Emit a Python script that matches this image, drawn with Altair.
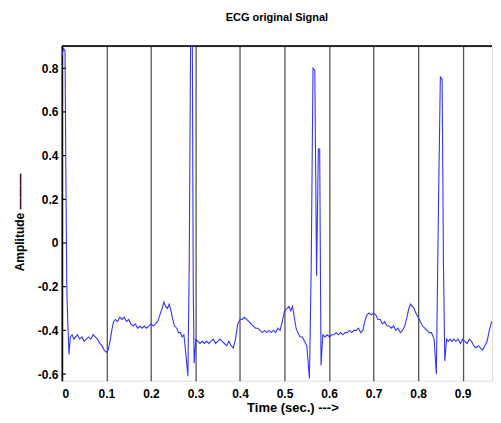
import altair as alt
import pandas as pd

time_s = [
    0.000, 0.004, 0.007, 0.009, 0.011, 0.013, 0.016, 0.019, 0.023, 0.027,
    0.031, 0.035, 0.040, 0.045, 0.050, 0.055, 0.060, 0.065, 0.070, 0.075,
    0.080, 0.085, 0.090, 0.095, 0.100, 0.104, 0.108, 0.112, 0.116, 0.120,
    0.125, 0.130, 0.135, 0.140, 0.145, 0.150, 0.155, 0.160, 0.165, 0.170,
    0.175, 0.180, 0.185, 0.190, 0.195, 0.200, 0.205, 0.210, 0.215, 0.220,
    0.225, 0.229, 0.233, 0.237, 0.241, 0.245, 0.249, 0.253, 0.258, 0.262,
    0.266, 0.270, 0.274, 0.278, 0.283, 0.286, 0.289, 0.293, 0.295, 0.297,
    0.301, 0.305, 0.310, 0.315, 0.320, 0.325, 0.330, 0.335, 0.340, 0.345,
    0.350, 0.355, 0.360, 0.365, 0.370, 0.375, 0.380, 0.385, 0.390, 0.395,
    0.400, 0.405, 0.410, 0.415, 0.420, 0.425, 0.430, 0.435, 0.440, 0.445,
    0.450, 0.455, 0.460, 0.465, 0.470, 0.475, 0.480, 0.485, 0.490, 0.495,
    0.500, 0.505, 0.510, 0.514, 0.518, 0.522, 0.526, 0.530, 0.535, 0.540,
    0.545, 0.550, 0.556, 0.560, 0.564, 0.568, 0.572, 0.576, 0.579, 0.582,
    0.586, 0.591, 0.596, 0.601, 0.606, 0.611, 0.616, 0.621, 0.626, 0.631,
    0.636, 0.641, 0.646, 0.651, 0.656, 0.661, 0.666, 0.671, 0.676, 0.680,
    0.685, 0.690, 0.695, 0.700, 0.705, 0.710, 0.715, 0.720, 0.725, 0.730,
    0.735, 0.740, 0.745, 0.750, 0.755, 0.760, 0.765, 0.770, 0.775, 0.779,
    0.783, 0.787, 0.791, 0.795, 0.800, 0.805, 0.810, 0.815, 0.820, 0.825,
    0.830, 0.836, 0.841, 0.846, 0.850, 0.854, 0.857, 0.860, 0.864, 0.868,
    0.872, 0.876, 0.880, 0.885, 0.890, 0.895, 0.900, 0.905, 0.910, 0.915,
    0.920, 0.925, 0.930, 0.935, 0.940, 0.945, 0.950, 0.955, 0.960, 0.965,
    0.970, 0.975, 0.980, 0.985, 0.990,
]
amplitude = [
    0.86, 0.89, 0.88, 0.30, -0.20, -0.35, -0.51, -0.43, -0.42, -0.44,
    -0.43, -0.42, -0.44, -0.43, -0.45, -0.44, -0.43, -0.44, -0.42, -0.43,
    -0.44, -0.46, -0.47, -0.49, -0.50, -0.49, -0.45, -0.40, -0.36, -0.35,
    -0.36, -0.34, -0.35, -0.34, -0.36, -0.35, -0.37, -0.38, -0.37, -0.39,
    -0.38, -0.39, -0.38, -0.39, -0.38, -0.37, -0.38, -0.37, -0.36, -0.33,
    -0.30, -0.27, -0.29, -0.30, -0.28, -0.31, -0.35, -0.38, -0.39, -0.41,
    -0.41, -0.43, -0.42, -0.50, -0.61, -0.10, 0.90, 0.90, -0.20, -0.55,
    -0.44, -0.45, -0.46, -0.45, -0.46, -0.45, -0.46, -0.45, -0.44, -0.46,
    -0.45, -0.44, -0.45, -0.46, -0.47, -0.45, -0.47, -0.48, -0.44, -0.37,
    -0.35, -0.35, -0.34, -0.35, -0.36, -0.37, -0.38, -0.39, -0.39, -0.40,
    -0.41, -0.40, -0.41, -0.40, -0.41, -0.40, -0.41, -0.39, -0.40, -0.36,
    -0.31, -0.30, -0.29, -0.31, -0.29, -0.34, -0.39, -0.41, -0.43, -0.43,
    -0.45, -0.47, -0.62, -0.10, 0.80, 0.79, -0.15, 0.43, 0.43, -0.56,
    -0.42, -0.43, -0.42, -0.43, -0.42, -0.42, -0.41, -0.42, -0.41, -0.42,
    -0.41, -0.41, -0.40, -0.41, -0.40, -0.40, -0.39, -0.41, -0.40, -0.36,
    -0.33, -0.32, -0.33, -0.32, -0.33, -0.35, -0.35, -0.37, -0.36, -0.38,
    -0.38, -0.39, -0.38, -0.40, -0.39, -0.41, -0.40, -0.38, -0.34, -0.30,
    -0.28, -0.29, -0.30, -0.32, -0.34, -0.36, -0.38, -0.39, -0.40, -0.41,
    -0.41, -0.44, -0.60, 0.20, 0.76, 0.75, -0.10, -0.54, -0.44, -0.45,
    -0.44, -0.45, -0.44, -0.45, -0.44, -0.46, -0.44, -0.45, -0.46, -0.44,
    -0.45, -0.47, -0.48, -0.47, -0.48, -0.49, -0.47, -0.45, -0.40, -0.36,
    -0.35, -0.34, -0.35, -0.34, -0.33,
]

x_ticks = [0, 0.1, 0.2, 0.3, 0.4, 0.5, 0.6, 0.7, 0.8, 0.9]
y_ticks = [-0.6, -0.4, -0.2, 0, 0.2, 0.4, 0.6, 0.8]

df = pd.DataFrame({"t": time_s, "a": amplitude})
ticks_df = pd.DataFrame({"v": y_ticks})

W, H = 431, 335
X_MAX = 0.966
FONT = "Liberation Sans"
LABEL_EXPR = ("datum.value == 0 ? '0' : (datum.value < 0 ? '-' + format(-datum.value, '.1f')"
              " : format(datum.value, '.1f'))")

line = alt.Chart(df).mark_line(color="#3535ff", strokeWidth=1.1, clip=True).encode(
    x=alt.X(
        "t:Q",
        scale=alt.Scale(domain=[0, X_MAX], nice=False, zero=False),
        axis=alt.Axis(
            values=x_ticks,
            labelExpr=LABEL_EXPR,
            grid=True,
            gridColor="#555555",
            gridWidth=1.3,
            gridOpacity=1,
            domain=False,
            ticks=False,
            labelPadding=8,
            labelFontSize=12,
            labelFont=FONT,
            labelColor="black",
            labelFontWeight="bold",
            title="Time (sec.) --->",
            titleFont=FONT,
            titleFontSize=13,
            titleFontWeight="bold",
            titleColor="black",
            titlePadding=2,
            titleX=231,
        ),
    ),
    y=alt.Y(
        "a:Q",
        scale=alt.Scale(domain=[-0.63, 0.9], nice=False, zero=False),
        axis=alt.Axis(
            values=y_ticks,
            labelExpr=LABEL_EXPR,
            grid=False,
            domainColor="black",
            domainWidth=1.6,
            ticks=False,
            labelPadding=4,
            labelFontSize=12,
            labelFont=FONT,
            labelColor="black",
            labelFontWeight="bold",
            title="Amplitude ———",
            titleFont=FONT,
            titleFontSize=12,
            titleFontWeight="bold",
            titleColor="black",
            titlePadding=11,
            titleY=176,
        ),
    ),
)

inner_ticks = alt.Chart(ticks_df).mark_rule(color="black", strokeWidth=1.2).encode(
    y=alt.Y("v:Q"),
    x=alt.value(0),
    x2=alt.value(4),
)

top_border = alt.Chart(ticks_df).mark_rule(color="#222222", strokeWidth=1.2).encode(
    y=alt.value(0),
    x=alt.value(0),
    x2=alt.value(W),
)

chart = (
    alt.layer(line, inner_ticks, top_border)
    .properties(
        width=W,
        height=H,
        title=alt.TitleParams(
            "ECG original Signal",
            font=FONT,
            fontSize=11,
            fontWeight="bold",
            color="black",
            offset=23,
        ),
        padding={"left": 5, "top": 3, "right": 0, "bottom": 5},
    )
    .configure_view(stroke=None)
    .configure(background="white")
)

chart.save("out.html", embed_options={"renderer": "svg", "actions": False})
